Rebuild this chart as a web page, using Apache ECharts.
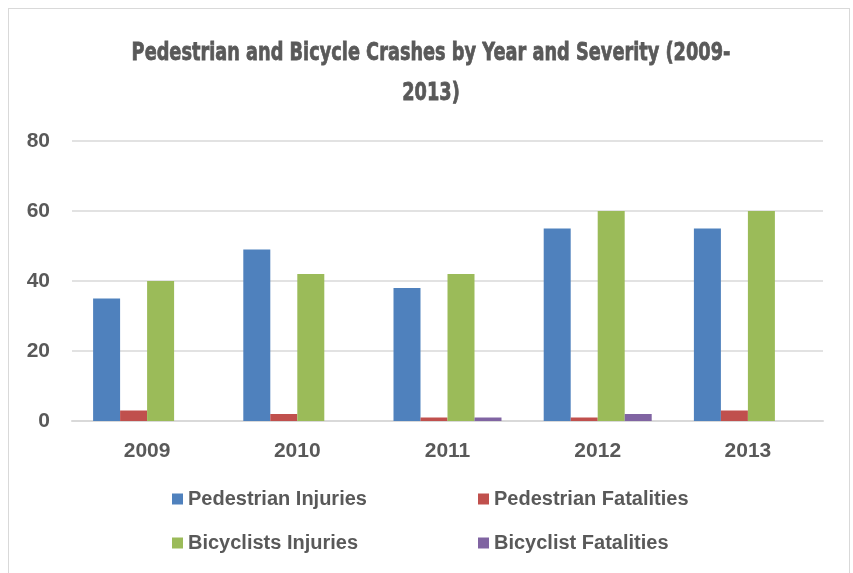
<!DOCTYPE html>
<html>
<head>
<meta charset="utf-8">
<script src="https://cdn.jsdelivr.net/npm/echarts@6/dist/echarts.min.js"></script>
<style>
    html, body { margin: 0; padding: 0; background: #fff; }
    #frame { position: absolute; left: 8px; top: 8px; width: 842px; height: 600px; border: 1.5px solid #d9d9d9; box-sizing: border-box; }
    #chart { position: absolute; left: 0; top: 0; width: 853px; height: 573px; }
</style>
</head>
<body>
<div id="frame"></div>
<div id="chart"></div>
<script>
const years = ['2009', '2010', '2011', '2012', '2013'];
const pedestrianInjuries = [35, 49, 38, 55, 55];
const pedestrianFatalities = [3, 2, 1, 1, 3];
const bicyclistsInjuries = [40, 42, 42, 60, 60];
const bicyclistFatalities = [0, 0, 1, 2, 0];
const seriesNames = ['Pedestrian Injuries', 'Pedestrian Fatalities', 'Bicyclists Injuries', 'Bicyclist Fatalities'];
const seriesColors = ['#4F81BD', '#C0504D', '#9BBB59', '#8064A2'];
const titleText = 'Pedestrian and Bicycle Crashes by Year and Severity (2009-\n2013)';

const textGray = '#595959';
const labelFont = '"Liberation Sans", Arial, sans-serif';

const chart = echarts.init(document.getElementById('chart'));

// one legend per name so the 2x2 layout can be placed exactly
const legendPos = [
    { left: 167, top: 484 },
    { left: 473, top: 484 },
    { left: 167, top: 528 },
    { left: 473, top: 528 },
];
const legends = seriesNames.map((name, i) => ({
    data: [name],
    left: legendPos[i].left,
    top: legendPos[i].top,
    itemWidth: 11,
    itemHeight: 11,
    icon: 'rect',
    textStyle: { color: textGray, fontFamily: labelFont, fontWeight: 'bold', fontSize: 20 },
}));

const seriesData = [pedestrianInjuries, pedestrianFatalities, bicyclistsInjuries, bicyclistFatalities];

const option = {
    animation: false,
    // no condensed face installed, so the title is squeezed horizontally
    graphic: [
        {
            type: 'text',
            x: 431,
            y: 33,
            scaleX: 0.71,
            style: {
                text: titleText,
                textAlign: 'center',
                textVerticalAlign: 'top',
                fill: textGray,
                stroke: textGray,
                lineWidth: 0.8,
                font: 'bold 25px "DejaVu Sans", sans-serif',
                lineHeight: 40,
            },
        },
    ],
    legend: legends,
    grid: { left: 72, right: 30, top: 141, bottom: 152 },
    xAxis: {
        type: 'category',
        data: years,
        axisTick: { show: false },
        axisLine: { lineStyle: { color: '#d9d9d9', width: 2 } },
        axisLabel: { color: textGray, fontFamily: labelFont, fontWeight: 'bold', fontSize: 21, margin: 20 },
    },
    yAxis: {
        type: 'value',
        min: 0,
        max: 80,
        interval: 20,
        axisLabel: { color: textGray, fontFamily: labelFont, fontWeight: 'bold', fontSize: 21, margin: 22 },
        splitLine: { lineStyle: { color: '#d9d9d9', width: 1.5 } },
    },
    series: seriesNames.map((name, i) => ({
        name: name,
        type: 'bar',
        data: seriesData[i],
        barWidth: 27,
        barGap: '0%',
        itemStyle: { color: seriesColors[i] },
    })),
};

chart.setOption(option);
</script>
</body>
</html>
